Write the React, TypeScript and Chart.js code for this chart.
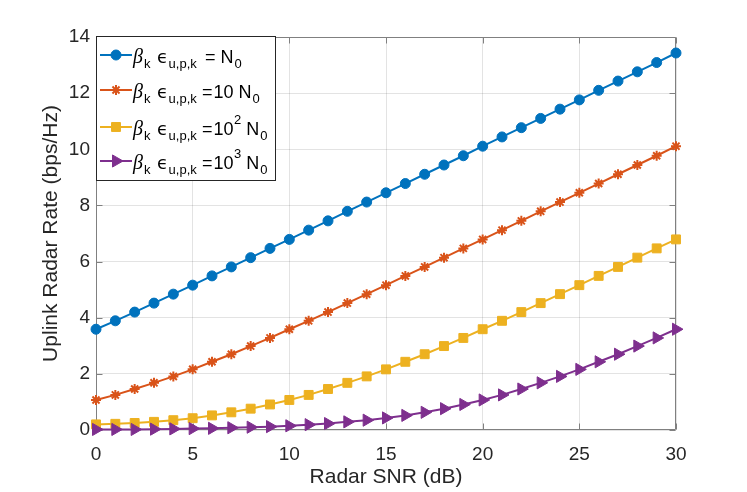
import { useEffect, useRef } from 'react';
import { Chart, registerables } from 'chart.js';
import { drawPoint } from 'chart.js/helpers';

Chart.register(...registerables);

// Radar SNR (dB) on the x axis
const snrDb = [0, 1, 2, 3, 4, 5, 6, 7, 8, 9, 10, 11, 12, 13, 14, 15, 16, 17, 18, 19, 20, 21, 22, 23, 24, 25, 26, 27, 28, 29, 30];

// uplink radar rate (bps/Hz), one list per noise level
const rateN0 = [3.59, 3.89, 4.2, 4.52, 4.84, 5.16, 5.49, 5.81, 6.14, 6.47, 6.79, 7.12, 7.45, 7.79, 8.12, 8.45, 8.78, 9.11, 9.44, 9.77, 10.11, 10.44, 10.77, 11.1, 11.43, 11.76, 12.1, 12.43, 12.76, 13.09, 13.43];
const rate10N0 = [1.07, 1.25, 1.46, 1.68, 1.91, 2.16, 2.43, 2.7, 2.99, 3.28, 3.59, 3.89, 4.2, 4.52, 4.84, 5.16, 5.49, 5.81, 6.14, 6.47, 6.79, 7.12, 7.45, 7.79, 8.12, 8.45, 8.78, 9.11, 9.44, 9.77, 10.11];
const rate100N0 = [0.2, 0.22, 0.25, 0.29, 0.35, 0.42, 0.52, 0.63, 0.76, 0.91, 1.07, 1.25, 1.46, 1.68, 1.91, 2.16, 2.43, 2.7, 2.99, 3.28, 3.59, 3.89, 4.2, 4.52, 4.84, 5.16, 5.49, 5.81, 6.14, 6.47, 6.79];
const rate1000N0 = [0.02, 0.02, 0.02, 0.03, 0.04, 0.05, 0.06, 0.08, 0.1, 0.12, 0.15, 0.19, 0.23, 0.29, 0.35, 0.43, 0.52, 0.63, 0.76, 0.91, 1.07, 1.25, 1.46, 1.68, 1.91, 2.16, 2.43, 2.7, 2.99, 3.28, 3.59];

const xTickValues = [0, 5, 10, 15, 20, 25, 30];
const yTickValues = [0, 2, 4, 6, 8, 10, 12, 14];

// legend text pieces: "= N0", "=10 N0", "=10^2 N0", "=10^3 N0"
const noiseFactors = ['', '10', '10', '10'];
const noiseExponents = ['', '', '2', '3'];
const seriesLabels = ['βk ϵu,p,k = N0', 'βk ϵu,p,k =10 N0', 'βk ϵu,p,k =10² N0', 'βk ϵu,p,k =10³ N0'];

const colors = ['#0072BD', '#D95319', '#EDB120', '#7E2F8E'];
const markers = [
  { pointStyle: 'circle', radius: 5, rotation: 0, borderWidth: 1 },
  { pointStyle: 'star', radius: 5, rotation: 0, borderWidth: 2 },
  { pointStyle: 'rect', radius: 6.3, rotation: 0, borderWidth: 1 },
  { pointStyle: 'triangle', radius: 7, rotation: 90, borderWidth: 1 },
];

const axisColor = '#808080';
const textColor = '#262626';
const sans = "'Liberation Sans', Arial, sans-serif";

const framePlugin = {
  id: 'matlabFrame',
  beforeDatasetsDraw(chart: any) {
    const { ctx, chartArea: a, scales } = chart;
    const l = a.left + 0.5, r = a.right - 0.5, t = a.top + 0.5, b = a.bottom - 0.5;
    ctx.save();
    ctx.strokeStyle = axisColor;
    ctx.lineWidth = 1;
    ctx.beginPath();
    ctx.rect(l, t, r - l, b - t);
    xTickValues.forEach((v) => {
      const px = Math.round(scales.x.getPixelForValue(v)) + 0.5;
      ctx.moveTo(px, b); ctx.lineTo(px, b - 6);
      ctx.moveTo(px, t); ctx.lineTo(px, t + 6);
    });
    yTickValues.forEach((v) => {
      const py = Math.round(scales.y.getPixelForValue(v)) + 0.5;
      ctx.moveTo(l, py); ctx.lineTo(l + 6, py);
      ctx.moveTo(r, py); ctx.lineTo(r - 6, py);
    });
    ctx.stroke();
    ctx.restore();
  },
};

const legendRows = [55, 90, 127, 161];

const legendPlugin = {
  id: 'texLegend',
  afterDatasetsDraw(chart: any) {
    const ctx = chart.ctx;
    const left = chart.chartArea.left + 0.5;
    const top = 36.5, right = 275.5, bottom = 180.5;
    ctx.save();
    ctx.fillStyle = '#ffffff';
    ctx.fillRect(left, top, right - left, bottom - top);
    ctx.strokeStyle = textColor;
    ctx.lineWidth = 1;
    ctx.strokeRect(left, top, right - left, bottom - top);

    const mainFont = `18px ${sans}`;
    const subFont = `13px ${sans}`;
    const greekFont = "italic 20px 'Liberation Serif', serif";
    const epsFont = "18px 'DejaVu Sans', sans-serif";

    legendRows.forEach((y, i) => {
      const c = colors[i];
      ctx.strokeStyle = c;
      ctx.fillStyle = c;
      ctx.lineWidth = 2;
      ctx.beginPath();
      ctx.moveTo(100, y);
      ctx.lineTo(132, y);
      ctx.stroke();
      ctx.lineWidth = markers[i].borderWidth;
      drawPoint(ctx, markers[i] as any, 116, y);

      ctx.fillStyle = '#000000';
      ctx.textBaseline = 'alphabetic';
      ctx.textAlign = 'left';
      const base = y + 7.5;
      const put = (text: string, font: string, x: number, dy: number) => {
        ctx.font = font;
        ctx.fillText(text, x, base + dy);
        return x + ctx.measureText(text).width;
      };
      let x = put('β', greekFont, 133, 0);
      put('k', subFont, x + 1, 5.5);
      x = put('ϵ', epsFont, 157, 0);
      put('u,p,k', subFont, x + 0.5, 5.5);
      if (noiseFactors[i] === '') {
        x = put('=', mainFont, 205, 0);
      } else {
        x = put('=', mainFont, 202, 0);
        x = put(noiseFactors[i], mainFont, x + 1, 0);
        if (noiseExponents[i]) x = put(noiseExponents[i], subFont, x + 0.5, -11);
      }
      x = put('N', mainFont, x + 5, 0);
      put('0', subFont, x + 1, 5.5);
    });
    ctx.restore();
  },
};

export default function App() {
  const ref = useRef<HTMLCanvasElement | null>(null);

  useEffect(() => {
    if (!ref.current) return;
    const series = [rateN0, rate10N0, rate100N0, rate1000N0];
    const chart = new Chart(ref.current, {
      type: 'line',
      data: {
        datasets: series.map((vals, i) => ({
          label: seriesLabels[i],
          data: snrDb.map((x, j) => ({ x, y: vals[j] })),
          borderColor: colors[i],
          backgroundColor: colors[i],
          borderWidth: 2,
          pointStyle: markers[i].pointStyle as any,
          pointRadius: markers[i].radius,
          pointRotation: markers[i].rotation,
          pointBorderWidth: markers[i].borderWidth,
          pointBackgroundColor: colors[i],
          pointBorderColor: colors[i],
          tension: 0,
          clip: false as any,
          order: 4 - i,
        })),
      },
      options: {
        responsive: true,
        maintainAspectRatio: false,
        animation: false,
        layout: { padding: { left: 0, top: 37, right: 71, bottom: 0 } },
        plugins: {
          legend: { display: false },
          tooltip: { enabled: false },
        },
        scales: {
          x: {
            type: 'linear',
            min: 0,
            max: 30,
            afterBuildTicks: (s: any) => { s.ticks = xTickValues.map((value) => ({ value })); },
            afterFit: (s: any) => { s.height = 62; },
            grid: { color: 'rgba(38,38,38,0.13)', drawTicks: false },
            border: { display: false },
            ticks: { color: textColor, font: { family: sans, size: 19 }, padding: 13.5, maxRotation: 0 },
            title: {
              display: true,
              text: 'Radar SNR (dB)',
              color: textColor,
              font: { family: sans, size: 21 },
              padding: { top: 0, bottom: 2.5 },
            },
          },
          y: {
            type: 'linear',
            min: 0,
            max: 14,
            afterBuildTicks: (s: any) => { s.ticks = yTickValues.map((value) => ({ value })); },
            afterFit: (s: any) => { s.width = 96; },
            grid: { color: 'rgba(38,38,38,0.13)', drawTicks: false },
            border: { display: false },
            ticks: { color: textColor, font: { family: sans, size: 19 }, padding: 6 },
            title: {
              display: true,
              text: 'Uplink Radar Rate (bps/Hz)',
              color: textColor,
              font: { family: sans, size: 21 },
              padding: { top: 38.5, bottom: 0 },
            },
          },
        },
      },
      plugins: [framePlugin, legendPlugin],
    });
    return () => chart.destroy();
  }, []);

  return (
    <div style={{ position: 'absolute', left: 0, top: 0, width: 747, height: 492, background: '#ffffff' }}>
      <canvas ref={ref} aria-label="Uplink radar rate versus radar SNR" />
    </div>
  );
}
